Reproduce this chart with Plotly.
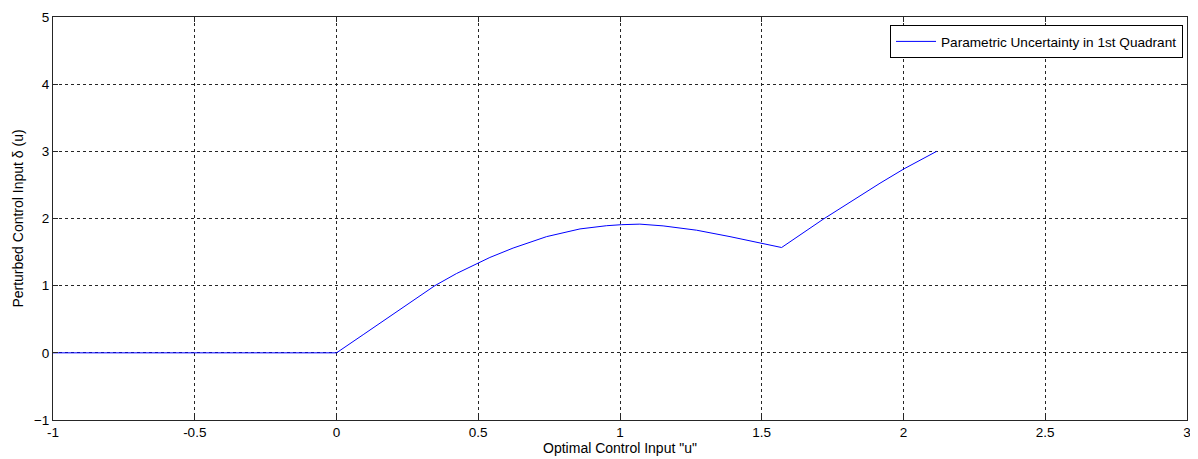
import plotly.graph_objects as go

u_vals = [-1.0, 0.0, 0.094, 0.164, 0.259, 0.347, 0.423, 0.497, 0.541, 0.623,
          0.741, 0.859, 0.953, 1.006, 1.04, 1.07, 1.152, 1.27, 1.388, 1.503,
          1.570, 1.717, 1.823, 1.917, 2.002, 2.117]
delta_vals = [0.0, 0.0, 0.27, 0.475, 0.75, 1.0, 1.18, 1.335, 1.42, 1.56,
              1.73, 1.845, 1.893, 1.908, 1.915, 1.916, 1.89, 1.826, 1.73, 1.628,
              1.568, 1.99, 2.28, 2.525, 2.74, 3.0]
x_ticks = [-1, -0.5, 0, 0.5, 1, 1.5, 2, 2.5, 3]
x_tick_text = ["-1", "-0.5", "0", "0.5", "1", "1.5", "2", "2.5", "3"]
y_ticks = [-1, 0, 1, 2, 3, 4, 5]
series_name = "Parametric Uncertainty in 1st Quadrant"

font_family = "Liberation Sans, Arial, sans-serif"

fig = go.Figure()
fig.add_trace(go.Scatter(
    x=u_vals, y=delta_vals, mode="lines", name=series_name,
    line=dict(color="#0000ff", width=1),
))

axis_common = dict(
    showline=True, linecolor="#262626", linewidth=1, mirror="ticks",
    ticks="inside", ticklen=5, tickcolor="#262626",
    showgrid=True, gridcolor="#262626", gridwidth=1, griddash="3px,3px",
    zeroline=False, automargin=False,
    tickfont=dict(family=font_family, size=13.5, color="#000000"),
)

# page body has an 8px margin: figure sized/offset to compensate
fig.update_layout(
    width=1190, height=451,
    margin=dict(l=45, r=11, t=9, b=39),
    paper_bgcolor="white", plot_bgcolor="white",
    font=dict(family=font_family, size=13.5, color="#000000"),
    showlegend=True,
    legend=dict(
        x=0.9965, y=0.980, xanchor="right", yanchor="top",
        bordercolor="#000000", borderwidth=1, bgcolor="white",
        font=dict(family=font_family, size=13.6, color="#000000"),
        tracegroupgap=0, itemwidth=40,
    ),
    xaxis=dict(
        range=[-1, 3], tickvals=x_ticks, ticktext=x_tick_text,
        title=dict(text='Optimal Control Input "u"', standoff=2,
                   font=dict(family=font_family, size=14)),
        **axis_common,
    ),
    yaxis=dict(
        range=[-1, 5], tickvals=y_ticks,
        title=dict(text="Perturbed Control Input \u03b4 (u)", standoff=6,
                   font=dict(family=font_family, size=14)),
        **axis_common,
    ),
)

fig.write_html("out.html")
